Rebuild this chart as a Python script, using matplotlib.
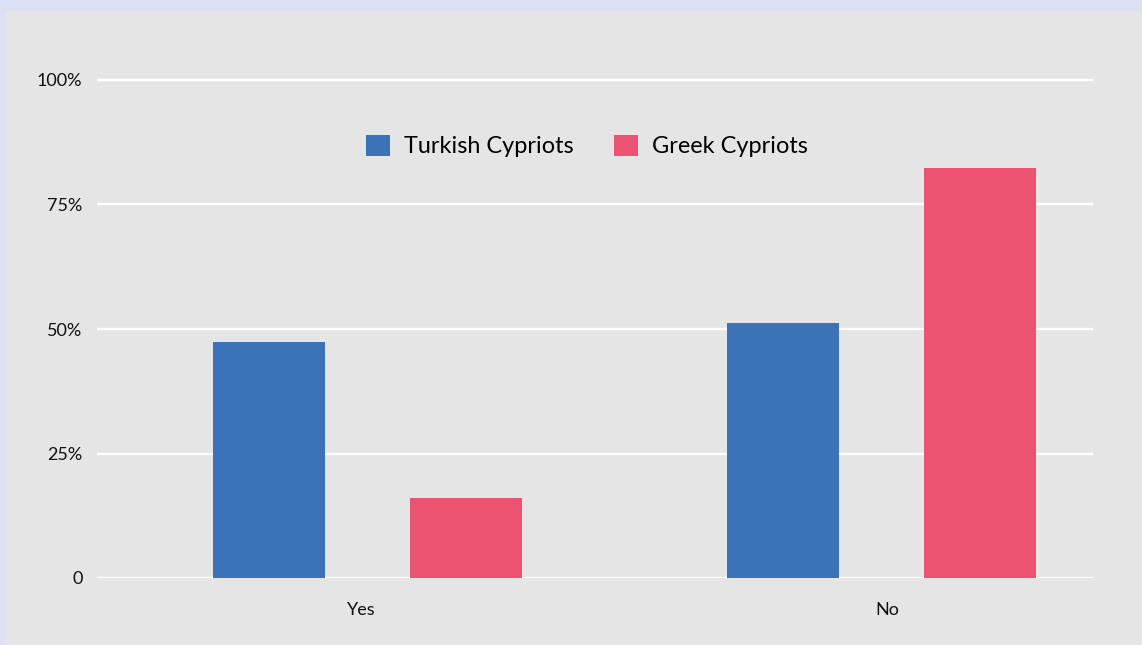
import numpy as np
import matplotlib.pyplot as plt
from matplotlib.patches import Rectangle

categories = ["Yes", "No"]
series = ["Turkish Cypriots", "Greek Cypriots"]
turkish = [47.4, 51.2]
greek = [16.1, 82.3]
yticks = [0, 25, 50, 75, 100]
ytick_labels = ["0", "25%", "50%", "75%", "100%"]

colors = ["#3a73b8", "#eb5370"]
bg = "#e5e5e5"

plt.rcParams['font.family'] = ['Lato', 'DejaVu Sans']

fig = plt.figure(figsize=(11.42, 6.45), dpi=100, facecolor="#dce0f3")
# grey panel inside the light blue frame
fig.patches.append(Rectangle((5/1142, 0), 1, (645-11)/645, transform=fig.transFigure,
                             facecolor=bg, edgecolor="none", zorder=-1))

W, H = 1142, 645
top_px = 80 - 5*4.98
ax = fig.add_axes([97/W, (H-578)/H, (1093-97)/W, (578-top_px)/H])
ax.set_zorder(1)
ax.set_facecolor("none")

x = np.arange(len(categories))
width = 0.218
off = 0.1916
ax.bar(x - off, turkish, width, color=colors[0], label=series[0], zorder=3)
ax.bar(x + off, greek, width, color=colors[1], label=series[1], zorder=3)

ax.set_xlim(-0.526, 1.411)
ax.set_ylim(0, 105)
ax.set_yticks(yticks)
ax.set_yticklabels(ytick_labels)
ax.set_xticks([-0.013, 1.011])
ax.set_xticklabels(categories)
ax.tick_params(length=0, labelsize=13, labelcolor="#111111")
ax.tick_params(axis="y", pad=10.5)
ax.tick_params(axis="x", pad=17)
ax.yaxis.grid(True, color="white", linewidth=1.7, zorder=1)
ax.set_axisbelow(True)
for s in ax.spines.values():
    s.set_visible(False)

leg = ax.legend(loc="center", bbox_to_anchor=((587-97)/996, (578-146)/(578-top_px)),
                ncol=2, frameon=False, fontsize=16.9, handlelength=1.0, handleheight=1.0,
                handletextpad=0.62, columnspacing=1.72)

fig.savefig("out.png", dpi=100, facecolor=fig.get_facecolor())
